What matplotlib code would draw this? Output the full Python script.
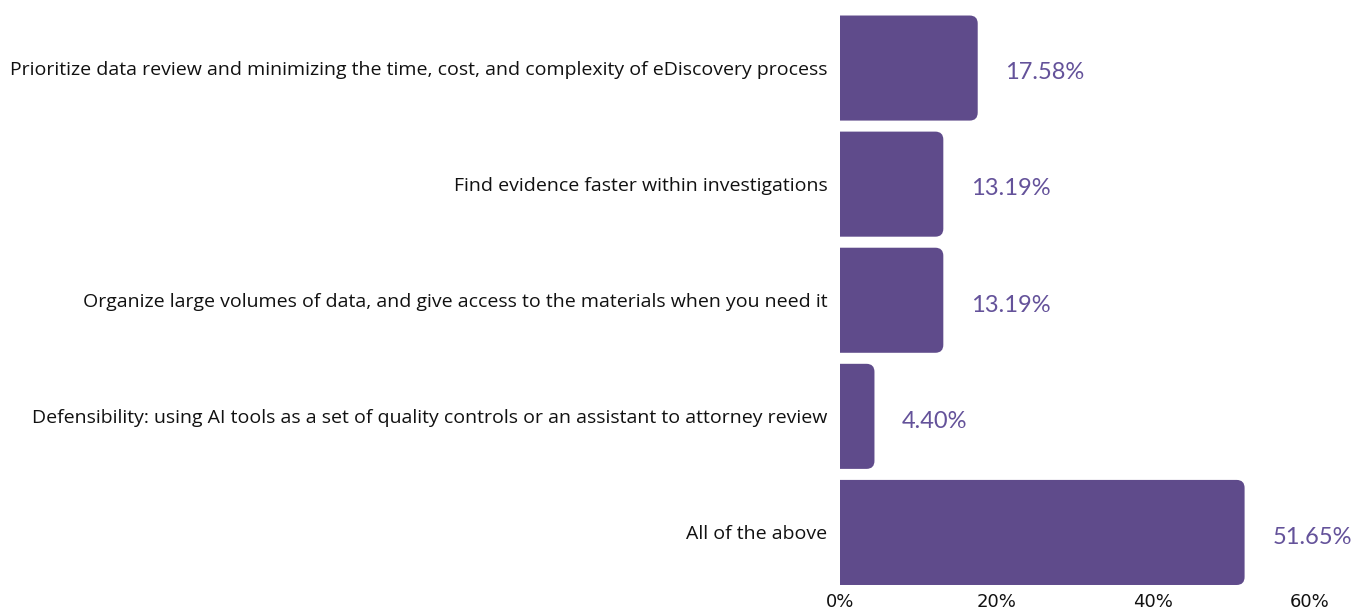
import matplotlib
matplotlib.use("Agg")
import matplotlib.pyplot as plt
from matplotlib.path import Path
from matplotlib.patches import PathPatch

categories = [
    "Prioritize data review and minimizing the time, cost, and complexity of eDiscovery process",
    "Find evidence faster within investigations",
    "Organize large volumes of data, and give access to the materials when you need it",
    "Defensibility: using AI tools as a set of quality controls or an assistant to attorney review",
    "All of the above",
]
values = [17.58, 13.19, 13.19, 4.40, 51.65]
xticks = [0, 20, 40, 60]
xtick_labels = ["0%", "20%", "40%", "60%"]

bar_color = "#5f4b8b"
label_color = "#64529a"

fig = plt.figure(figsize=(13.55, 6.13), dpi=100)
ax = fig.add_axes([840 / 1355, 22.5 / 613, 470 / 1355, 580.5 / 613])

ypos = list(range(len(categories)))
bar_h = 0.905
bars = ax.barh(ypos, values, height=bar_h, color="none")
ax.set_xlim(0, 60)
ax.set_ylim(len(categories) - 0.5, -0.5)
fig.canvas.draw()

# corner radius of 8 px, expressed in data units along each axis
radius_px = 8
inv = ax.transData.inverted()
p0 = inv.transform((0, 0))
p1 = inv.transform((radius_px, radius_px))
rx = abs(p1[0] - p0[0])
ry = abs(p1[1] - p0[1])


def right_rounded_bar(x0, y0, w, h):
    x1, y1 = x0 + w, y0 + h
    verts = [
        (x0, y0), (x1 - rx, y0), (x1, y0), (x1, y0 + ry),
        (x1, y1 - ry), (x1, y1), (x1 - rx, y1), (x0, y1), (x0, y0),
    ]
    codes = [
        Path.MOVETO, Path.LINETO, Path.CURVE3, Path.CURVE3,
        Path.LINETO, Path.CURVE3, Path.CURVE3, Path.LINETO, Path.CLOSEPOLY,
    ]
    return Path(verts, codes)


for b in bars:
    x0, y0 = b.get_x(), b.get_y()
    w, h = b.get_width(), b.get_height()
    ax.add_patch(PathPatch(right_rounded_bar(x0, y0, w, h),
                           fc=bar_color, ec="none"))
    ax.annotate(f"{w:.2f}%", (x0 + w, y0 + h / 2), xytext=(20, -2),
                textcoords="offset points", ha="left", va="center_baseline",
                fontsize=17, color=label_color, family="Lato",
                annotation_clip=False)

ax.set_yticks(ypos)
ax.set_yticklabels(categories, fontsize=14, family="Open Sans", color="#111111")
ax.set_xticks(xticks)
ax.set_xticklabels(xtick_labels, fontsize=13, family="DejaVu Sans", color="#111111")
ax.tick_params(axis="y", length=0, pad=9)
ax.tick_params(axis="x", length=0, pad=2)
for s in ax.spines.values():
    s.set_visible(False)

fig.savefig("out.png", dpi=100, facecolor="white")
